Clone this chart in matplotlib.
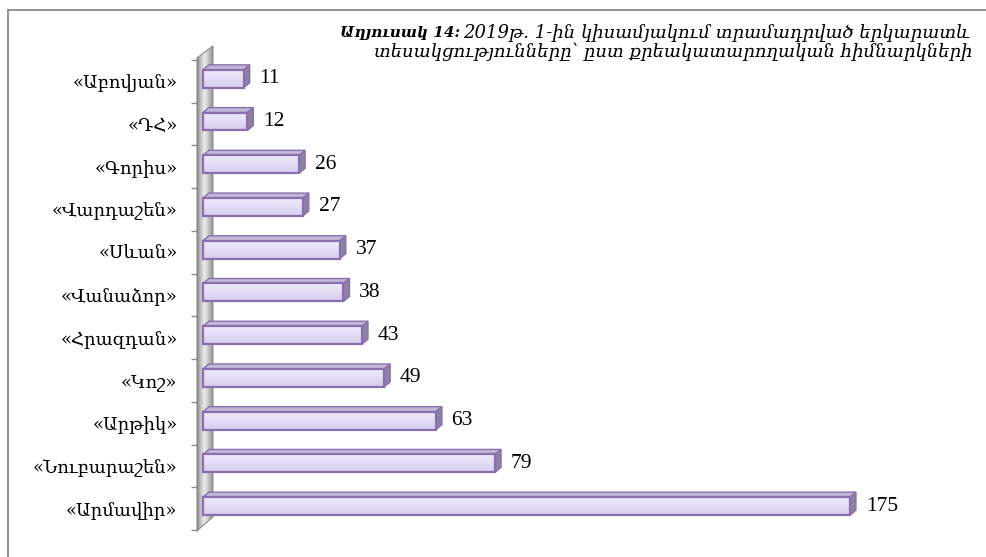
import matplotlib
matplotlib.use('Agg')
import numpy as np
import matplotlib.pyplot as plt
from matplotlib.patches import Polygon, Rectangle
from matplotlib.lines import Line2D
from matplotlib.colors import LinearSegmentedColormap

# data, top row of the chart first
prisons = ['«Աբովյան»', '«ԴՀ»', '«Գորիս»', '«Վարդաշեն»', '«Սևան»', '«Վանաձոր»',
           '«Հրազդան»', '«Կոշ»', '«Արթիկ»', '«Նուբարաշեն»', '«Արմավիր»']
visits = [11, 12, 26, 27, 37, 38, 43, 49, 63, 79, 175]

title_head = 'Աղյուսակ 14:'
title_line1 = '2019թ. 1-ին կիսամյակում տրամադրված երկարատև'
title_line2 = 'տեսակցությունները՝ ըստ քրեակատարողական հիմնարկների'

# bottom row first for plotting
names = prisons[::-1]
vals = visits[::-1]

arm_font = ['DejaVu Serif', 'DejaVu Sans']
num_font = ['Liberation Serif', 'DejaVu Serif']

W, H = 987, 557
fig = plt.figure(figsize=(W / 100, H / 100), dpi=100)
fig.patch.set_facecolor('white')

# axes placed so x=0 sits on the wall and rows are ~43px apart
ax = fig.add_axes([191.9 / W, 22.7 / H, 750.5 / W, 491.4 / H])
ax.set_facecolor('none')

# depth of the 3d look, in data units
dx, dy = 1.62, 0.116
bar_h = 0.42
shift = 0.06

# left wall
wall_x0, wall_x1 = -1.62, 2.70
wall = Polygon([(wall_x0, -0.52), (wall_x0, 10.55), (wall_x1, 10.83), (wall_x1, -0.19)],
               closed=True, facecolor='none', edgecolor='#8c8c8c', lw=0.8, zorder=2)
ax.add_patch(wall)
wall_cmap = LinearSegmentedColormap.from_list('wall', ['#858585', '#c8c8c8', '#ececec', '#bdbdbd', '#959595'])
wim = ax.imshow(np.linspace(0, 1, 64).reshape(1, -1), cmap=wall_cmap, aspect='auto',
                extent=(wall_x0, wall_x1, -0.52, 10.83), origin='lower', zorder=1)
wim.set_clip_path(wall)

bar_cmap = LinearSegmentedColormap.from_list('bar', ['#d6cbee', '#e4dcf5', '#efeafa'])
edge_col = '#8a6fb0'

for i, v in enumerate(vals):
    y0 = i + shift - bar_h / 2
    y1 = i + shift + bar_h / 2
    top = Polygon([(0, y1), (v, y1), (v + dx, y1 + dy), (dx, y1 + dy)], closed=True,
                  facecolor='#c2b8d6', edgecolor=edge_col, lw=1.0, zorder=3)
    side = Polygon([(v, y0), (v, y1), (v + dx, y1 + dy), (v + dx, y0 + dy)], closed=True,
                   facecolor='#8d80a3', edgecolor=edge_col, lw=1.0, zorder=3)
    ax.add_patch(top)
    ax.add_patch(side)
    ax.imshow(np.linspace(0, 1, 32).reshape(-1, 1), cmap=bar_cmap, aspect='auto',
              extent=(0, v, y0, y1), origin='lower', zorder=4)
    ax.add_patch(Rectangle((0, y0), v, bar_h, facecolor='none', edgecolor=edge_col,
                           lw=1.6, zorder=5))
    ax.annotate(str(v), xy=(v + dx, i + shift), xytext=(7, 0), textcoords='offset points',
                va='center', ha='left', fontsize=15.5, family=num_font, color='black')

ax.set_xlim(-3, 200)
ax.set_ylim(-0.6, 10.9)

for s in ['top', 'right', 'bottom']:
    ax.spines[s].set_visible(False)
ax.spines['left'].set_position(('data', wall_x0))
ax.spines['left'].set_color('#8c8c8c')
ax.spines['left'].set_bounds(-0.52, 10.55)
ax.set_xticks([])
ax.set_yticks(range(len(names)))
ax.set_yticklabels(names, family=arm_font, fontsize=13)
ax.set_yticks(np.arange(-0.5, len(names), 1.0), minor=True)
ax.tick_params(axis='y', which='major', length=0, pad=14)
ax.tick_params(axis='y', which='minor', length=4.3, width=1, color='#8c8c8c')

# frame of the figure, cut off at right and bottom
fig.add_artist(Line2D([8 / W, 8 / W], [0, 1 - 10 / H], transform=fig.transFigure,
                      color='#8a8a8a', lw=1.3))
fig.add_artist(Line2D([8 / W, 1], [1 - 10 / H, 1 - 10 / H], transform=fig.transFigure,
                      color='#8a8a8a', lw=1.3))

# title
t1 = fig.text(340 / W, 1 - 37 / H, title_head, family=arm_font, style='italic',
              weight='bold', fontsize=11, va='baseline')
fig.canvas.draw()
bb = t1.get_window_extent()
fig.text((bb.x1 + 3) / W, 1 - 37 / H, title_line1, family=arm_font, style='italic',
         fontsize=13, va='baseline')
fig.text(374 / W, 1 - 57 / H, title_line2, family=arm_font, style='italic',
         fontsize=13, va='baseline')

fig.savefig('out.png', dpi=100)
